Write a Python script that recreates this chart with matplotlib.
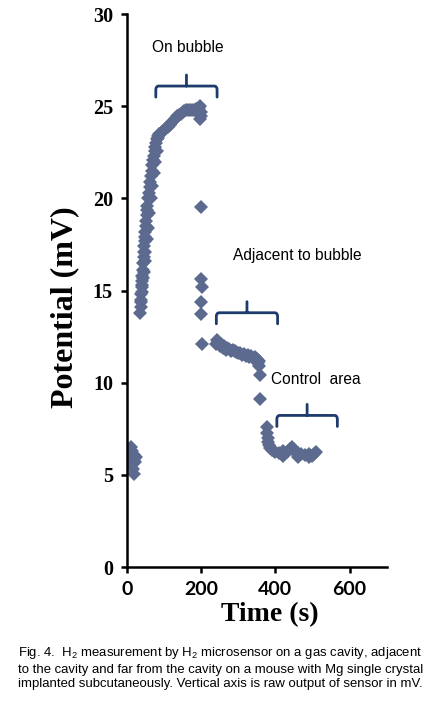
import matplotlib
matplotlib.use("Agg")
import matplotlib.pyplot as plt
from matplotlib.path import Path
from matplotlib.patches import PathPatch

plt.rcParams['mathtext.fontset'] = 'custom'
plt.rcParams['mathtext.rm'] = 'Liberation Sans'
plt.rcParams['mathtext.it'] = 'Liberation Sans:italic'
plt.rcParams['mathtext.bf'] = 'Liberation Sans:bold'

# ---------------- data ----------------
baseline_t = [5, 8, 10, 6, 4, 12, 15, 18, 22, 12, 16, 20, 8, 24, 14, 19]
baseline_v = [6.4, 6.2, 6.5, 6.0, 5.8, 6.1, 5.9, 5.8, 5.7, 5.5, 5.3, 5.05, 5.6, 6.0, 6.3, 6.1]

rise_t = [36, 37, 38, 39, 40, 41, 42, 43, 44, 45, 46, 47, 48, 49, 50, 51, 52, 53,
          54, 55, 57, 59, 61, 63, 65, 67, 69, 71, 73, 75, 77, 79, 81, 83, 85, 87]
rise_v = [13.8, 14.1, 14.4, 14.8, 15.2, 15.5, 15.8, 16.1, 16.5, 16.8, 17.1, 17.4,
          17.7, 17.9, 18.2, 18.5, 18.8, 19.1, 19.4, 19.6, 20.0, 20.3, 20.6, 20.9,
          21.2, 21.5, 21.8, 22.1, 22.3, 22.6, 22.8, 23.0, 23.2, 23.4, 23.3, 23.5]
rise2_t = [38, 40, 42, 44, 46, 48, 50, 53, 56, 60, 64, 68, 72, 76, 80]
rise2_v = [14.5, 14.9, 15.3, 15.7, 16.0, 16.6, 17.1, 17.8, 18.4, 19.2, 20.0, 20.7,
           21.4, 22.0, 22.6]

plateau_t = [90, 95, 100, 105, 110, 115, 120, 125, 130, 135, 140, 145, 150, 155,
             160, 165, 170, 175, 180, 185, 190, 195, 198, 197, 199, 201]
plateau_v = [23.5, 23.6, 23.7, 23.8, 23.9, 24.0, 24.1, 24.2, 24.3, 24.45, 24.55,
             24.6, 24.7, 24.75, 24.8, 24.8, 24.8, 24.8, 24.8, 24.85, 24.85, 24.9,
             25.0, 24.3, 24.5, 24.7]

drop_t = [201, 201, 202, 201, 201, 202]
drop_v = [19.55, 15.65, 15.2, 14.4, 13.75, 12.1]

adjacent_t = [240, 243, 246, 250, 254, 258, 262, 266, 270, 275, 280, 285, 290, 295,
              300, 305, 310, 315, 320, 325, 330, 335, 340, 345, 350, 353, 356, 355, 358]
adjacent_v = [12.1, 12.3, 12.2, 12.0, 12.1, 11.9, 12.0, 11.8, 11.9, 11.85, 11.7,
              11.8, 11.7, 11.65, 11.6, 11.6, 11.5, 11.55, 11.45, 11.5, 11.4, 11.45,
              11.35, 11.4, 11.3, 11.1, 11.2, 10.9, 10.4]

transition_t = [358]
transition_v = [9.1]

control_t = [377, 378, 379, 380, 382, 385, 390, 395, 400, 410, 420, 430, 440, 445,
             450, 460, 470, 480, 490, 500, 505, 510, 420, 460, 490]
control_v = [7.6, 7.3, 7.0, 6.8, 6.6, 6.45, 6.35, 6.3, 6.25, 6.2, 6.3, 6.25, 6.4,
             6.5, 6.3, 6.2, 6.15, 6.1, 6.15, 6.05, 6.15, 6.25, 6.05, 6.0, 6.0]

x_ticks = [0, 200, 400, 600]
y_ticks = [0, 5, 10, 15, 20, 25, 30]

# annotation brackets: (x_left, x_right, y_horizontal) and label
brackets = [(78, 243, 26.1), (241, 406, 13.8), (404, 567, 8.23)]
labels = ["On bubble", "Adjacent to bubble", "Control  area"]
label_pos = [(163, 28.2), (458, 16.9), (510, 10.2)]

caption = ("Fig. 4.  H$_2$ measurement by H$_2$ microsensor on a gas cavity, adjacent\n"
           "to the cavity and far from the cavity on a mouse with Mg single crystal\n"
           "implanted subcutaneously. Vertical axis is raw output of sensor in mV.")

# ---------------- plot ----------------
fig = plt.figure(figsize=(4.42, 7.08), dpi=100)
ax = fig.add_axes([0.287, 0.199, 0.588, 0.781])

mcolor = "#5b6a8e"
all_t = baseline_t + rise_t + rise2_t + plateau_t + drop_t + adjacent_t + transition_t + control_t
all_v = baseline_v + rise_v + rise2_v + plateau_v + drop_v + adjacent_v + transition_v + control_v
ax.plot(all_t, all_v, linestyle='none', marker='D', markersize=7.6,
        color=mcolor, markeredgewidth=0)

ax.set_xlim(0, 700)
ax.set_ylim(0, 30)
ax.set_xticks(x_ticks)
ax.set_yticks(y_ticks)
for s in ['top', 'right']:
    ax.spines[s].set_visible(False)
for s in ['left', 'bottom']:
    ax.spines[s].set_linewidth(1.8)
ax.tick_params(axis='both', direction='out', length=4, width=1.8, color='black')
ax.tick_params(axis='y', pad=6)
ax.tick_params(axis='x', pad=6)

for lab in ax.get_yticklabels():
    lab.set_fontfamily('Liberation Serif')
    lab.set_fontweight('bold')
    lab.set_fontsize(14.5)
for lab in ax.get_xticklabels():
    lab.set_fontfamily('Lato')
    lab.set_fontweight('bold')
    lab.set_fontsize(14)

ax.set_ylabel("Potential (mV)", family='Liberation Serif', fontweight='bold',
              fontsize=23)
ax.yaxis.set_label_coords(-0.185, 0.47)
ax.set_xlabel("Time (s)", family='Liberation Serif', fontweight='bold',
              fontsize=20)
ax.xaxis.set_label_coords(0.55, -0.064)

bcolor = "#1d3b6c"
for (x0, x1, yh) in brackets:
    xm = (x0 + x1) / 2
    ye = yh - 0.6
    yt = yh + 0.6
    rx, ry = 8, 0.2
    verts = [(x0, ye), (x0, yh - ry), (x0, yh), (x0 + rx, yh), (x1 - rx, yh),
             (x1, yh), (x1, yh - ry), (x1, ye),
             (xm, yh), (xm, yt)]
    codes = [Path.MOVETO, Path.LINETO, Path.CURVE3, Path.CURVE3, Path.LINETO,
             Path.CURVE3, Path.CURVE3, Path.LINETO,
             Path.MOVETO, Path.LINETO]
    ax.add_patch(PathPatch(Path(verts, codes), facecolor='none', edgecolor=bcolor,
                           linewidth=2.0, capstyle='round', joinstyle='round'))

for txt, (tx, ty) in zip(labels, label_pos):
    ax.text(tx, ty, txt, family='Liberation Sans', fontsize=11.2, ha='center',
            va='center', color='black')

fig.text(0.04, 0.057, caption, family='Liberation Sans', fontsize=9.45,
         ha='left', va='center', linespacing=1.3)

fig.savefig("out.png", dpi=100)
